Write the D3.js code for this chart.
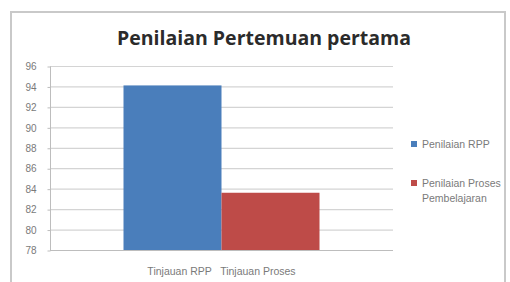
<!DOCTYPE html>
<html>
<head>
<meta charset="utf-8">
<script src="https://cdn.jsdelivr.net/npm/d3@7"></script>
<style>
  body { margin: 0; background: #fff; }
  text { font-family: "Liberation Sans", Arial, sans-serif; }
  .title { font-family: "Open Sans", "Noto Sans", sans-serif; font-weight: bold; font-size: 19.5px; fill: #2b2b2b; }
  .tick text { fill: #7a7a7a; font-size: 10px; }
  .lbl { fill: #7a7a7a; font-size: 10.5px; }
</style>
</head>
<body>
<svg id="chart"></svg>
<script>
// data
const categories = ["Tinjauan RPP   Tinjauan Proses"];
const seriesNames = ["Penilaian RPP", "Penilaian Proses Pembelajaran"];
const penilaianRPP = [94.1];
const penilaianProses = [83.6];
const yTicks = [78, 80, 82, 84, 86, 88, 90, 92, 94, 96];
const colors = ["#4a7ebb", "#be4b48"];

const width = 510, height = 282;
const svg = d3.select("#chart").attr("width", width).attr("height", height);

// outer frame (bottom is cut off in the picture)
svg.append("path")
  .attr("d", "M11,282 V12 H505 V282")
  .attr("fill", "none")
  .attr("stroke", "#c9c9c9")
  .attr("stroke-width", 2);

svg.append("text").attr("class", "title")
  .attr("x", 264).attr("y", 45)
  .attr("text-anchor", "middle")
  .text("Penilaian Pertemuan pertama");

const plot = { left: 50, right: 393, top: 66, bottom: 250 };

const y = d3.scaleLinear().domain([78, 96]).range([plot.bottom, plot.top]);
// gap width 150% -> 0.375 of the band on each side
const x = d3.scaleBand().domain(categories).range([plot.left, plot.right])
  .paddingInner(0).paddingOuter(0.375);
const xs = d3.scaleBand().domain(seriesNames).range([0, x.bandwidth()]);

// gridlines
svg.append("g").selectAll("line").data(yTicks).enter().append("line")
  .attr("x1", plot.left).attr("x2", plot.right)
  .attr("y1", d => y(d) + 0.5).attr("y2", d => y(d) + 0.5)
  .attr("stroke", "#d4d4d4").attr("stroke-width", 1.2);

// y axis
const yAxis = svg.append("g")
  .attr("transform", "translate(" + (plot.left + 0.5) + ",0.5)")
  .call(d3.axisLeft(y).tickValues(yTicks).tickSize(3).tickPadding(11));
yAxis.selectAll("line, path").attr("stroke", "#bdbdbd");
yAxis.select(".domain").attr("d", "M0," + plot.top + "V" + plot.bottom);

// bars
const rows = categories.map((c, i) => ({ cat: c, vals: [penilaianRPP[i], penilaianProses[i]] }));
const groups = svg.append("g").selectAll("g").data(rows).enter().append("g")
  .attr("transform", d => "translate(" + x(d.cat) + ",0)");
groups.selectAll("rect").data(d => d.vals.map((v, j) => ({ name: seriesNames[j], v: v, j: j })))
  .enter().append("rect")
  .attr("x", d => xs(d.name))
  .attr("width", xs.bandwidth())
  .attr("y", d => y(d.v))
  .attr("height", d => y(78) - y(d.v))
  .attr("fill", d => colors[d.j]);

// x axis baseline + category label
svg.append("line")
  .attr("x1", plot.left).attr("x2", plot.right)
  .attr("y1", plot.bottom + 0.5).attr("y2", plot.bottom + 0.5)
  .attr("stroke", "#bdbdbd");
svg.append("g").selectAll("text").data(categories).enter().append("text")
  .attr("class", "lbl")
  .attr("x", d => x(d) + x.bandwidth() / 2)
  .attr("y", 275)
  .attr("text-anchor", "middle")
  .attr("xml:space", "preserve")
  .style("white-space", "pre")
  .text(d => d);

// legend
const legend = svg.append("g").selectAll("g").data(seriesNames).enter().append("g")
  .attr("transform", (d, i) => "translate(411," + (144 + i * 39) + ")");
legend.append("rect")
  .attr("x", 0).attr("y", -3).attr("width", 6).attr("height", 6)
  .attr("fill", (d, i) => colors[i]);
legend.append("text").attr("class", "lbl")
  .attr("x", 11).attr("y", 4)
  .each(function (d) {
    const t = d3.select(this);
    const words = d.split(" ");
    let line = [], tspan = t.append("tspan").attr("x", 11).attr("dy", 0);
    words.forEach(w => {
      line.push(w);
      tspan.text(line.join(" "));
      if (tspan.node().getComputedTextLength() > 90 && line.length > 1) {
        line.pop();
        tspan.text(line.join(" "));
        line = [w];
        tspan = t.append("tspan").attr("x", 11).attr("dy", 15).text(w);
      }
    });
  });
</script>
</body>
</html>
